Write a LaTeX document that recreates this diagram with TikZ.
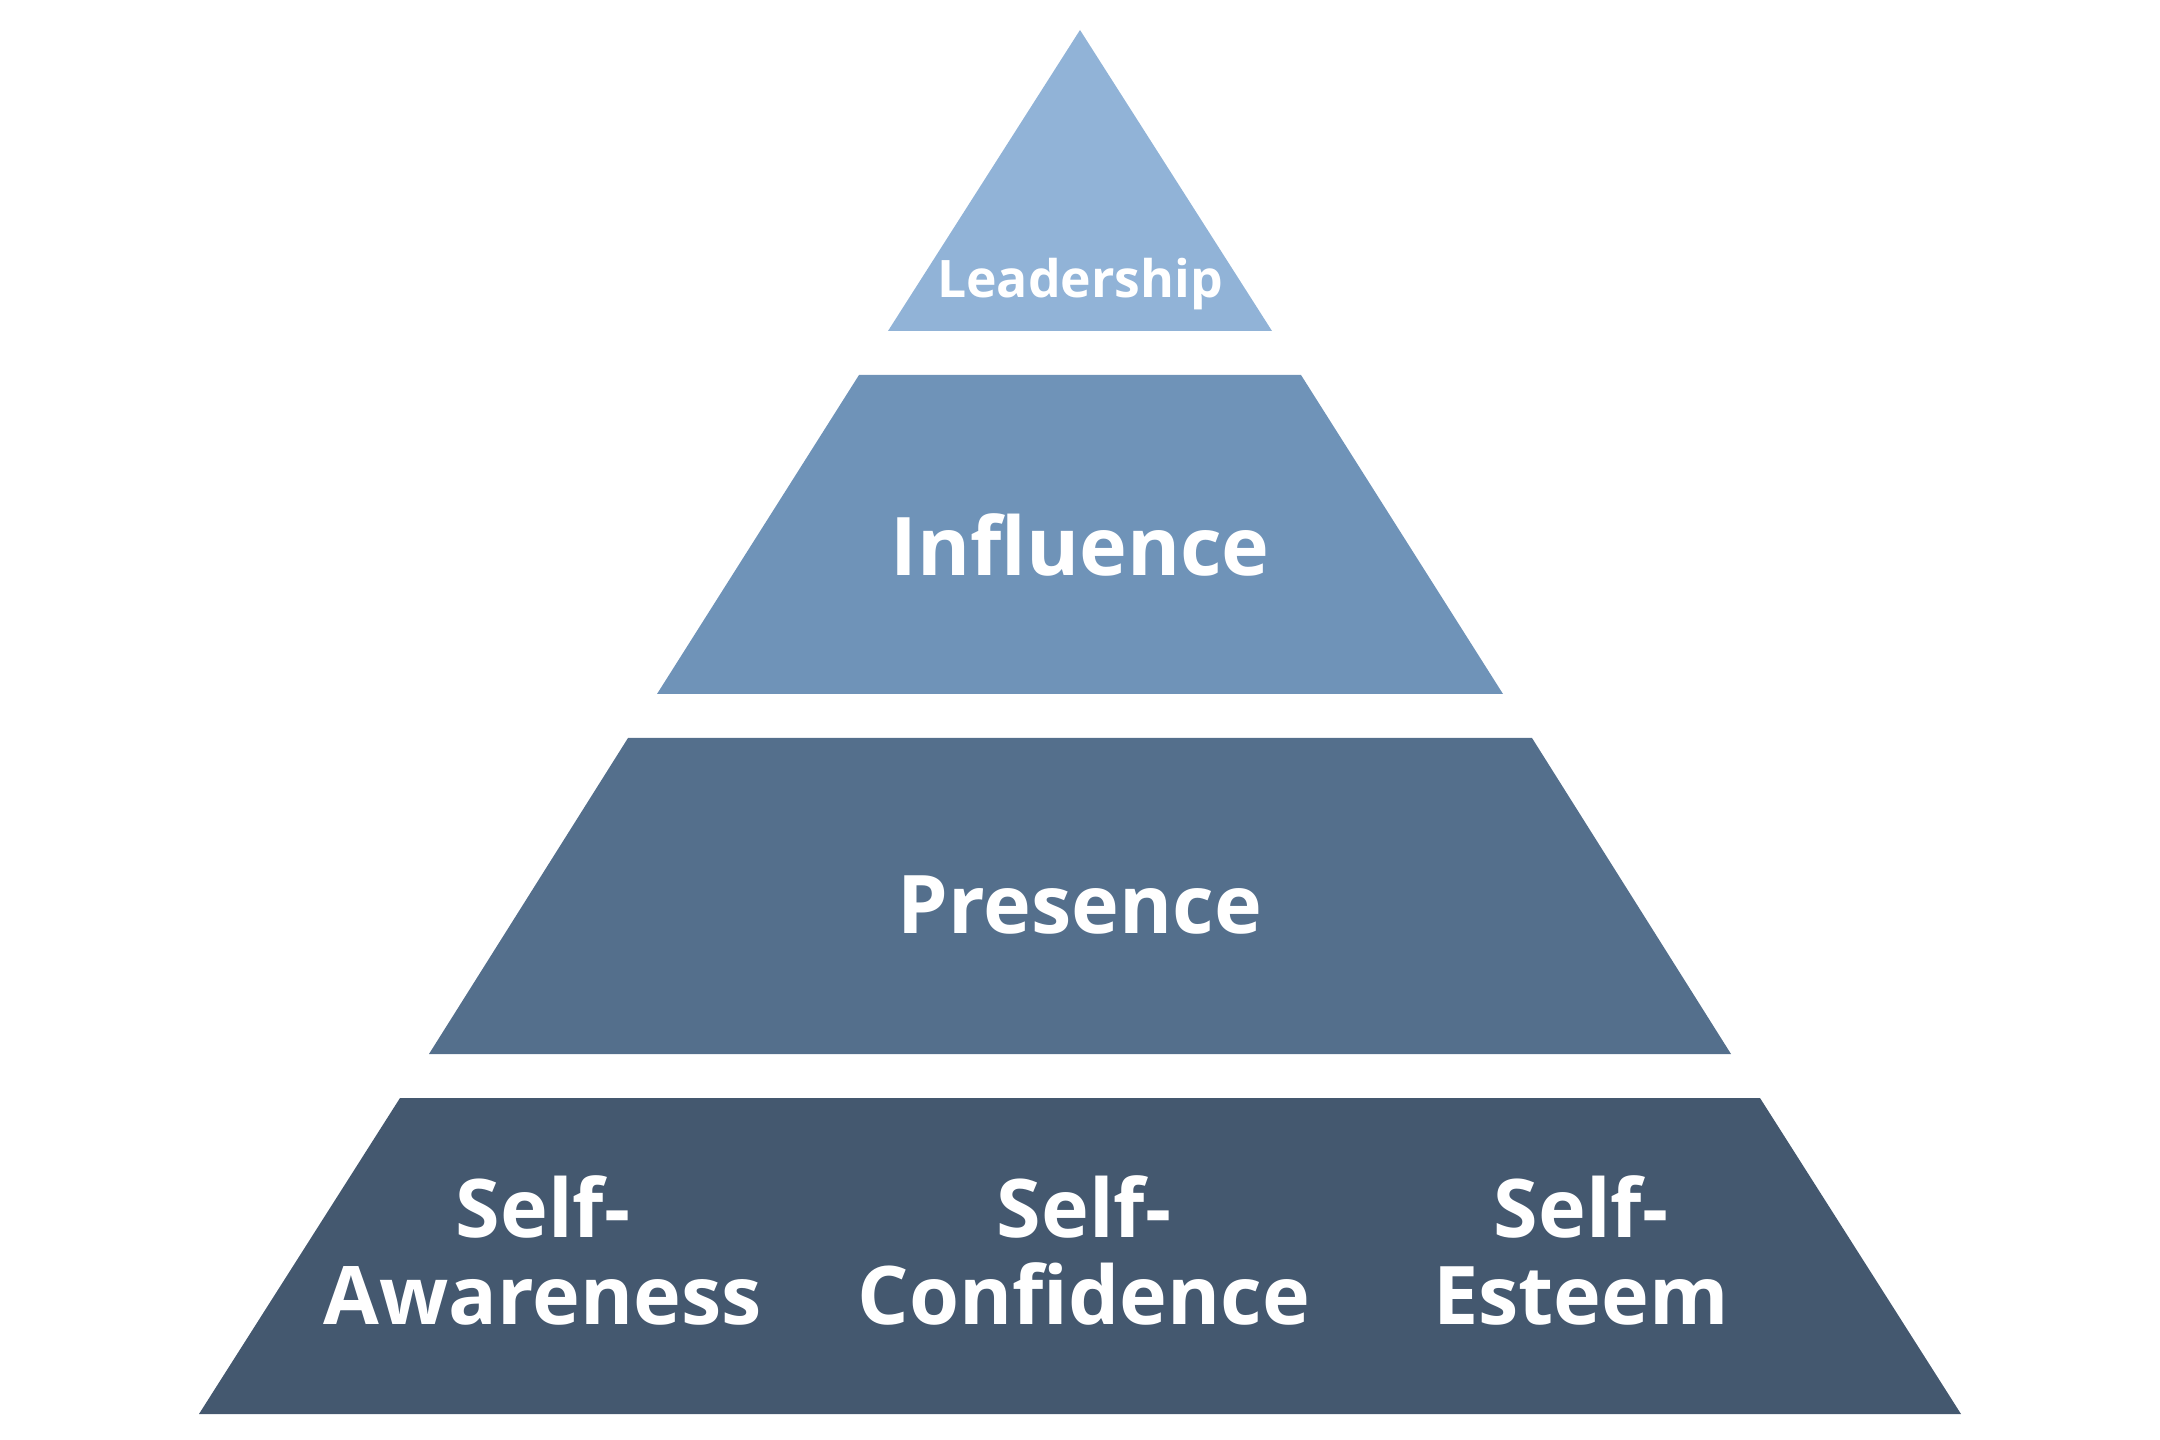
\documentclass[tikz,border=0pt]{standalone}
\usepackage{fontspec}
\setmainfont{Open Sans}[Ligatures=NoCommon]
\usetikzlibrary{positioning}
\definecolor{lvlA}{RGB}{145,179,215}
\definecolor{lvlB}{RGB}{111,147,184}
\definecolor{lvlC}{RGB}{84,111,140}
\definecolor{lvlD}{RGB}{68,88,111}
\tikzset{lbl/.style={text=white, font=\bfseries\fontsize{23}{24.7}\selectfont, align=center, anchor=base, inner sep=0pt}}
\tikzset{toplbl/.style={lbl, font=\bfseries\fontsize{14.7}{16}\selectfont}}

\begin{document}
\begin{tikzpicture}[x=0.01cm, y=-0.01cm]
    \useasboundingbox (0,0) rectangle (2160,1440);

    \fill[lvlA] (1080,30) -- (1272,331) -- (888,331) -- cycle;
    \fill[lvlB] (859,375) -- (1301,375) -- (1503,694) -- (657,694) -- cycle;
    \fill[lvlC] (628,738) -- (1532,738) -- (1731,1054) -- (429,1054) -- cycle;
    \fill[lvlD] (400,1098) -- (1760,1098) -- (1961,1414) -- (199,1414) -- cycle;

    \node[toplbl] (lead) at (1080,298) {Leadership};
    \node[lbl] (infl) at (1080,576) {Influence};
    \node[lbl] (pres) at (1080,933) {Presence};

    \node[lbl] (aware) at (543,1324) {Self-\\Awareness};
    \node[lbl] (conf) at (1084,1324) {Self-\\Confidence};
    \node[lbl] (esteem) at (1581,1324) {Self-\\Esteem};
\end{tikzpicture}
\end{document}
